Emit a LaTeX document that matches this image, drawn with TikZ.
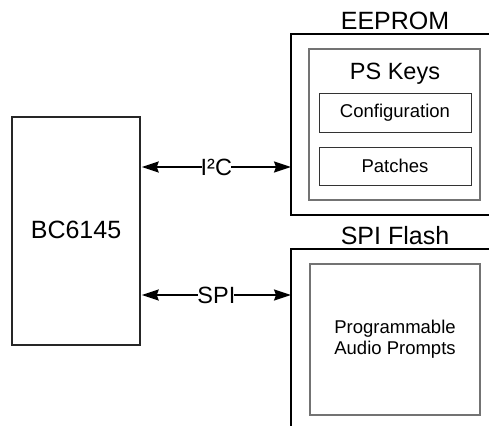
\documentclass[tikz,border=0pt]{standalone}
\usepackage{fontspec}
\setmainfont{Liberation Sans}
\usetikzlibrary{arrows.meta}
\tikzset{
  x=1pt, y=1pt,
  big/.style={font=\fontsize{25}{30}\selectfont},
  mid/.style={font=\fontsize{23.5}{28}\selectfont},
  small/.style={font=\fontsize{18.5}{21}\selectfont},
  outerline/.style={draw=black, line width=2pt},
  chip/.style={draw=black!85, line width=1.5pt, inner sep=0pt},
  graybox/.style={draw=black!55, line width=1.2pt, inner sep=0pt},
  subbox/.style={draw=black!80, line width=1pt, inner sep=0pt},
  bus/.style={line width=1.5pt, {Stealth[length=17pt,width=11pt,inset=2pt]}-{Stealth[length=17pt,width=11pt,inset=2pt]}},
  buslabel/.style={mid, fill=white, inner xsep=-1pt, inner ysep=0.3pt, anchor=base, yshift=-8.3pt}
}
\begin{document}
\begin{tikzpicture}
\useasboundingbox (0,0) rectangle (489,-425);
% EEPROM outer (open at right)
\draw[outerline] (492,-34) -- (291,-34) -- (291,-215) -- (492,-215);
\coordinate (eeL) at (291,-167);
\node[big, anchor=base] (eelabel) at (395,-30) {EEPROM};
% SPI Flash outer (open at right and bottom)
\draw[outerline] (492,-249) -- (291,-249) -- (291,-430);
\coordinate (flL) at (291,-295);
\node[big, anchor=base] (fllabel) at (395,-244) {SPI Flash};
% chip
\node[chip, minimum width=128pt, minimum height=228pt] (chip) at (76,-231) {};
\node[big, anchor=base] (chiplabel) at (76,-238) {BC6145};
% PS Keys
\node[graybox, minimum width=171pt, minimum height=151pt] (ps) at (394.5,-124.5) {};
\node[mid, anchor=base] (pslabel) at (395,-80) {PS Keys};
\node[subbox, small, minimum width=152pt, minimum height=38pt] (conf) at (395,-113) {Configuration};
\node[subbox, small, minimum width=152pt, minimum height=38pt] (patch) at (395,-166) {Patches};
% Flash contents
\node[graybox, small, align=center, minimum width=170pt, minimum height=151pt] (prompts) at (395,-339.5) {Programmable\\Audio Prompts};
% buses
\coordinate (chipI) at (chip.east |- eeL);
\coordinate (chipS) at (chip.east |- flL);
\draw[bus] ([xshift=1pt]chipI) -- (eeL) node[buslabel, pos=0.5] (i2c) {I²C};
\draw[bus] ([xshift=1pt]chipS) -- (flL) node[buslabel, pos=0.5] (spi) {SPI};
\end{tikzpicture}
\end{document}
